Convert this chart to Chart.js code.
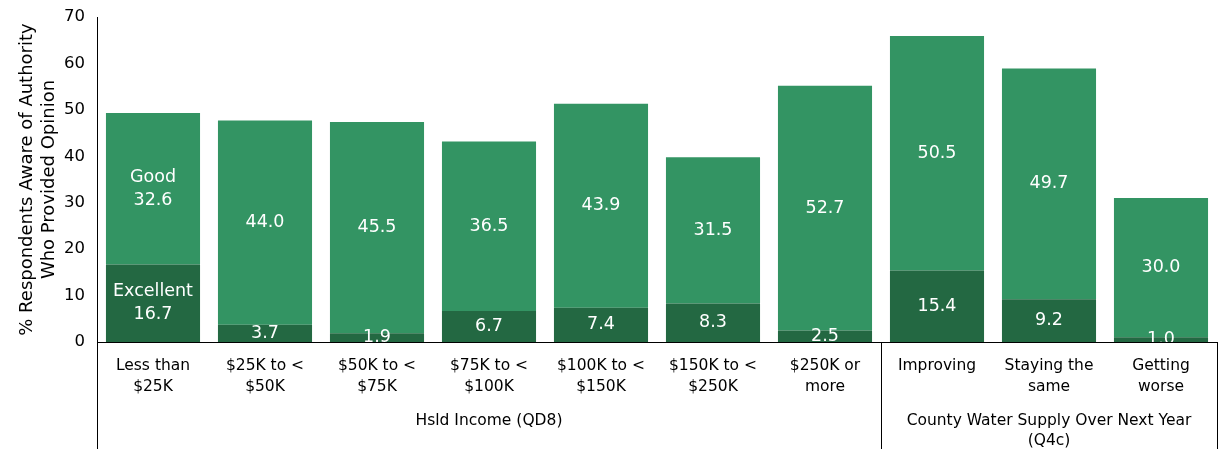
<!DOCTYPE html>
<html><head><meta charset="utf-8">
<script src="https://cdn.jsdelivr.net/npm/chart.js@4/dist/chart.umd.min.js"></script>
<style>html,body{margin:0;padding:0;background:#fff;}</style>
</head><body>
<canvas id="c" width="1229" height="449"></canvas>
<script>
const categories = [["Less than","$25K"],["$25K to <","$50K"],["$50K to <","$75K"],["$75K to <","$100K"],["$100K to <","$150K"],["$150K to <","$250K"],["$250K or","more"],["Improving"],["Staying the","same"],["Getting","worse"]];
const excellent = [16.7, 3.7, 1.9, 6.7, 7.4, 8.3, 2.5, 15.4, 9.2, 1.0];
const good = [32.6, 44.0, 45.5, 36.5, 43.9, 31.5, 52.7, 50.5, 49.7, 30.0];
const groups = [
  {label:["Hsld Income (QD8)"], from:0, to:6},
  {label:["County Water Supply Over Next Year","(Q4c)"], from:7, to:9}
];
const yTicks = [0,10,20,30,40,50,60,70];
const FONT = "'DejaVu Sans', sans-serif";
const DARK = '#236842', LIGHT = '#339463';

const overlay = {
  id:'overlay',
  afterDatasetsDraw(chart){
    const ctx = chart.ctx, ca = chart.chartArea;
    ctx.save();
    ctx.beginPath(); ctx.rect(ca.left, ca.top, ca.right-ca.left, ca.bottom-ca.top); ctx.clip();
    ctx.fillStyle = '#fff'; ctx.font = '17.5px ' + FONT;
    ctx.textAlign = 'center'; ctx.textBaseline = 'middle';
    chart.data.datasets.forEach((ds, di) => {
      const meta = chart.getDatasetMeta(di);
      meta.data.forEach((bar, i) => {
        const v = ds.data[i];
        const cy = (bar.y + bar.base) / 2;
        const txt = v.toFixed(1);
        if (i === 0) {
          ctx.fillText(ds.label, bar.x, cy - 11.5);
          ctx.fillText(txt, bar.x, cy + 11.5);
        } else {
          ctx.fillText(txt, bar.x, cy);
        }
      });
    });
    ctx.restore();
  },
  afterDraw(chart){
    const ctx = chart.ctx, ca = chart.chartArea;
    const step = (ca.right - ca.left) / categories.length;
    ctx.save();
    ctx.strokeStyle = '#000'; ctx.lineWidth = 1;
    const H = chart.height;
    const lines = [ca.left, ca.left + 7*step, ca.right];
    lines.forEach((lx, k) => {
      const px = Math.round(lx) + 0.5;
      ctx.beginPath(); ctx.moveTo(px, k===0 ? ca.top : ca.bottom); ctx.lineTo(px, H); ctx.stroke();
    });
    ctx.beginPath(); ctx.moveTo(ca.left, Math.round(ca.bottom)+0.5); ctx.lineTo(ca.right, Math.round(ca.bottom)+0.5); ctx.stroke();
    ctx.fillStyle = '#000'; ctx.font = '15.5px ' + FONT; ctx.textAlign = 'center'; ctx.textBaseline = 'middle';
    groups.forEach(g => {
      const cx = ca.left + step * (g.from + g.to + 1) / 2;
      g.label.forEach((t, j) => ctx.fillText(t, cx, 421 + j*20));
    });
    ctx.restore();
  }
};

new Chart(document.getElementById('c'), {
  type:'bar',
  data:{
    labels: categories,
    datasets:[
      {label:'Excellent', data: excellent, backgroundColor: DARK, barPercentage: 0.84, categoryPercentage: 1},
      {label:'Good', data: good, backgroundColor: LIGHT, barPercentage: 0.84, categoryPercentage: 1}
    ]
  },
  options:{
    responsive:false, animation:false,
    layout:{padding:{top:17, right:12, left:17, bottom:0}},
    plugins:{legend:{display:false}, tooltip:{enabled:false}},
    scales:{
      x:{stacked:true, grid:{display:false, drawTicks:false}, border:{display:false},
         ticks:{color:'#000', font:{family:FONT, size:15.5, lineHeight:1.35}, padding:14, maxRotation:0, autoSkip:false},
         afterFit(s){ s.height = 107; }},
      y:{stacked:true, min:0, max:70, grid:{display:false, drawTicks:false}, border:{display:false},
         afterBuildTicks(s){ s.ticks = yTicks.map(v=>({value:v})); },
         ticks:{color:'#000', font:{family:FONT, size:16.5}, padding:12},
         title:{display:true, text:['% Respondents Aware of Authority','Who Provided Opinion'], color:'#000', font:{family:FONT, size:18, lineHeight:1.2}, padding:{top:0,bottom:0}},
         afterFit(s){ s.width = 80; s.paddingTop = 0; s.paddingBottom = 0; }}
    }
  },
  plugins:[overlay]
});
</script>
</body></html>
